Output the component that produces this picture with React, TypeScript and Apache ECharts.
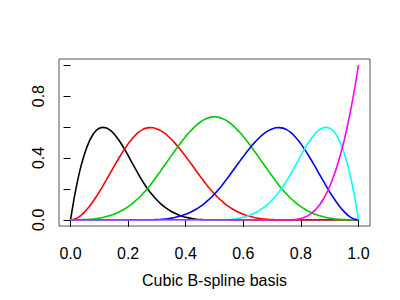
import React, { useEffect, useRef } from "react";
import * as echarts from "echarts";

const xValues = [
  0, 0.0125, 0.025, 0.0375, 0.05, 0.0625, 0.075, 0.0875, 0.1, 0.1125,
  0.125, 0.1375, 0.15, 0.1625, 0.175, 0.1875, 0.2, 0.2125, 0.225, 0.2375,
  0.25, 0.2625, 0.275, 0.2875, 0.3, 0.3125, 0.325, 0.3375, 0.35, 0.3625,
  0.375, 0.3875, 0.4, 0.4125, 0.425, 0.4375, 0.45, 0.4625, 0.475, 0.4875,
  0.5, 0.5125, 0.525, 0.5375, 0.55, 0.5625, 0.575, 0.5875, 0.6, 0.6125,
  0.625, 0.6375, 0.65, 0.6625, 0.675, 0.6875, 0.7, 0.7125, 0.725, 0.7375,
  0.75, 0.7625, 0.775, 0.7875, 0.8, 0.8125, 0.825, 0.8375, 0.85, 0.8625,
  0.875, 0.8875, 0.9, 0.9125, 0.925, 0.9375, 0.95, 0.9625, 0.975, 0.9875, 1,
];

const basisBlack = [
  0, 0.139, 0.257, 0.355, 0.434, 0.496, 0.542, 0.574, 0.592, 0.598,
  0.594, 0.58, 0.558, 0.529, 0.495, 0.457, 0.416, 0.373, 0.331, 0.289,
  0.25, 0.214, 0.182, 0.154, 0.128, 0.105, 0.086, 0.069, 0.054, 0.042,
  0.031, 0.023, 0.016, 0.011, 0.007, 0.0039, 0.002, 0.0008, 0.0003, 0.00003,
  0, 0, 0, 0, 0, 0, 0, 0, 0, 0,
  0, 0, 0, 0, 0, 0, 0, 0, 0, 0,
  0, 0, 0, 0, 0, 0, 0, 0, 0, 0,
  0, 0, 0, 0, 0, 0, 0, 0, 0, 0, 0,
];
const basisRed = [
  0, 0.0036, 0.014, 0.031, 0.053, 0.079, 0.11, 0.144, 0.181, 0.22,
  0.26, 0.301, 0.342, 0.382, 0.421, 0.457, 0.491, 0.521, 0.547, 0.568,
  0.583, 0.593, 0.596, 0.595, 0.588, 0.577, 0.562, 0.543, 0.521, 0.496,
  0.469, 0.44, 0.409, 0.378, 0.346, 0.314, 0.282, 0.251, 0.221, 0.193,
  0.167, 0.143, 0.122, 0.102, 0.085, 0.07, 0.057, 0.046, 0.036, 0.028,
  0.021, 0.015, 0.011, 0.0072, 0.0045, 0.0026, 0.0013, 0.0006, 0.0002, 0.00002,
  0, 0, 0, 0, 0, 0, 0, 0, 0, 0,
  0, 0, 0, 0, 0, 0, 0, 0, 0, 0, 0,
];
const basisGreen = [
  0, 0.00002, 0.0002, 0.0006, 0.0013, 0.0026, 0.0045, 0.0072, 0.011, 0.015,
  0.021, 0.028, 0.036, 0.046, 0.057, 0.07, 0.085, 0.102, 0.122, 0.143,
  0.167, 0.193, 0.221, 0.251, 0.283, 0.315, 0.348, 0.381, 0.415, 0.447,
  0.479, 0.51, 0.539, 0.566, 0.59, 0.612, 0.631, 0.646, 0.657, 0.664,
  0.667, 0.664, 0.657, 0.646, 0.631, 0.612, 0.59, 0.566, 0.539, 0.51,
  0.479, 0.447, 0.415, 0.381, 0.348, 0.315, 0.283, 0.251, 0.221, 0.193,
  0.167, 0.143, 0.122, 0.102, 0.085, 0.07, 0.057, 0.046, 0.036, 0.028,
  0.021, 0.015, 0.011, 0.0072, 0.0045, 0.0026, 0.0013, 0.0006, 0.0002, 0.00002, 0,
];
const basisBlue = [
  0, 0, 0, 0, 0, 0, 0, 0, 0, 0,
  0, 0, 0, 0, 0, 0, 0, 0, 0, 0,
  0, 0.00002, 0.0002, 0.0006, 0.0013, 0.0026, 0.0045, 0.0072, 0.011, 0.015,
  0.021, 0.028, 0.036, 0.046, 0.057, 0.07, 0.085, 0.102, 0.122, 0.143,
  0.167, 0.193, 0.221, 0.251, 0.282, 0.314, 0.346, 0.378, 0.409, 0.44,
  0.469, 0.496, 0.521, 0.543, 0.562, 0.577, 0.588, 0.595, 0.596, 0.593,
  0.583, 0.568, 0.547, 0.521, 0.491, 0.457, 0.421, 0.382, 0.342, 0.301,
  0.26, 0.22, 0.181, 0.144, 0.11, 0.079, 0.053, 0.031, 0.014, 0.0036, 0,
];
const basisCyan = [
  0, 0, 0, 0, 0, 0, 0, 0, 0, 0,
  0, 0, 0, 0, 0, 0, 0, 0, 0, 0,
  0, 0, 0, 0, 0, 0, 0, 0, 0, 0,
  0, 0, 0, 0, 0, 0, 0, 0, 0, 0,
  0, 0.00003, 0.0003, 0.0008, 0.002, 0.0039, 0.007, 0.011, 0.016, 0.023,
  0.031, 0.042, 0.054, 0.069, 0.086, 0.105, 0.128, 0.154, 0.182, 0.214,
  0.25, 0.289, 0.331, 0.373, 0.416, 0.457, 0.495, 0.529, 0.558, 0.58,
  0.594, 0.598, 0.592, 0.574, 0.542, 0.496, 0.434, 0.355, 0.257, 0.139, 0,
];
const basisMagenta = [
  0, 0, 0, 0, 0, 0, 0, 0, 0, 0,
  0, 0, 0, 0, 0, 0, 0, 0, 0, 0,
  0, 0, 0, 0, 0, 0, 0, 0, 0, 0,
  0, 0, 0, 0, 0, 0, 0, 0, 0, 0,
  0, 0, 0, 0, 0, 0, 0, 0, 0, 0,
  0, 0, 0, 0, 0, 0, 0, 0, 0, 0,
  0, 0.0001, 0.001, 0.0034, 0.008, 0.016, 0.027, 0.043, 0.064, 0.091,
  0.125, 0.166, 0.216, 0.275, 0.343, 0.422, 0.512, 0.614, 0.729, 0.857, 1,
];

const seriesValues = [basisBlack, basisRed, basisGreen, basisBlue, basisCyan, basisMagenta];
const seriesColors = ["#000000", "#FF0000", "#00CD00", "#0000FF", "#00FFFF", "#FF00FF"];

const xTicks = [0, 0.2, 0.4, 0.6, 0.8, 1.0];
const yTicks = [0, 0.2, 0.4, 0.6, 0.8, 1.0];
const yLabels = [0, 0.4, 0.8];
const xTitle = "Cubic B-spline basis";

const FONT = "'Liberation Sans', Arial, Helvetica, sans-serif";

export default function App() {
  const ref = useRef<HTMLDivElement>(null);
  useEffect(() => {
    if (!ref.current) return;
    const chart = echarts.init(ref.current, undefined, { renderer: "svg" });
    chart.setOption({
      animation: false,
      backgroundColor: "#ffffff",
      grid: {
        left: 59,
        top: 59,
        width: 311,
        height: 167,
        show: true,
        borderColor: "#555555",
        borderWidth: 1,
        outerBoundsMode: "none",
        containLabel: false,
      },
      xAxis: {
        type: "value",
        min: -0.04,
        max: 1.04,
        name: xTitle,
        nameLocation: "middle",
        nameGap: 46,
        nameTextStyle: { color: "#000", fontSize: 16, fontFamily: FONT },
        axisLine: { show: false },
        splitLine: { show: false },
        axisTick: {
          show: true,
          length: 7,
          inside: false,
          customValues: xTicks,
          lineStyle: { color: "#000", width: 1 },
        },
        axisLabel: {
          customValues: xTicks,
          margin: 19,
          color: "#000",
          fontSize: 16,
          fontFamily: FONT,
          formatter: (v: number) => v.toFixed(1),
        },
      },
      yAxis: {
        type: "value",
        min: -0.04,
        max: 1.04,
        axisLine: { show: false },
        splitLine: { show: false },
        axisTick: {
          show: true,
          length: 7,
          inside: false,
          customValues: yTicks,
          lineStyle: { color: "#000", width: 1 },
        },
        axisLabel: {
          customValues: yLabels,
          rotate: 90,
          margin: 13,
          color: "#000",
          fontSize: 16,
          fontFamily: FONT,
          formatter: (v: number) => v.toFixed(1),
        },
      },
      series: seriesValues.map((vals, i) => ({
        type: "line",
        data: xValues.map((x, j) => [x, vals[j]]),
        showSymbol: false,
        smooth: 0.2,
        lineStyle: { color: seriesColors[i], width: 1.6 },
        itemStyle: { color: seriesColors[i] },
        z: 2 + i,
      })),
    });
    return () => chart.dispose();
  }, []);
  return <div ref={ref} style={{ width: 400, height: 300, position: "absolute", left: 0, top: 0 }} />;
}
